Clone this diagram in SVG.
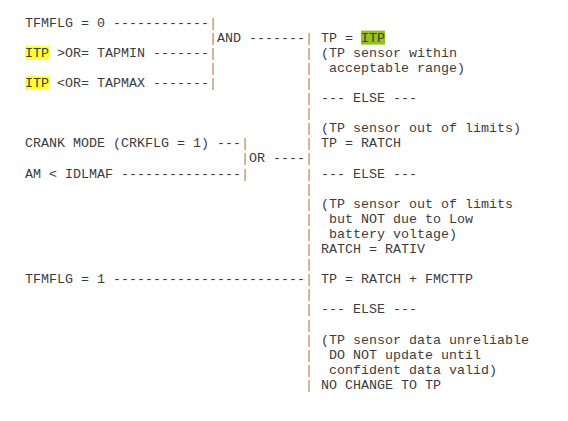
<svg xmlns="http://www.w3.org/2000/svg" width="568" height="421" viewBox="0 0 568 421">
<style>
text{font-family:"Liberation Mono","DejaVu Sans Mono",monospace;font-size:13.33px;fill:#3c3c3c;white-space:pre}
.bar{fill:#8a8a8a}
.hy{fill:#ffff33}
.hg{fill:#95c11f}
</style>
<rect width="568" height="421" fill="#ffffff"/>
<g id="connectors">
<text x="113" y="26.5">------------</text><text class="bar" x="209" y="26.5">|</text>
<text class="bar" x="209" y="41.6">|</text><text x="249" y="41.6">-------</text><text class="bar" x="305" y="41.6">|</text>
<text x="153" y="56.7">-------</text><text class="bar" x="209" y="56.7">|</text><text class="bar" x="305" y="56.7">|</text>
<text class="bar" x="209" y="71.8">|</text><text class="bar" x="305" y="71.8">|</text>
<text x="153" y="86.9">-------</text><text class="bar" x="209" y="86.9">|</text><text class="bar" x="305" y="86.9">|</text>
<text class="bar" x="305" y="102.0">|</text>
<text class="bar" x="305" y="117.1">|</text>
<text class="bar" x="305" y="132.2">|</text>
<text x="217" y="147.3">---</text><text class="bar" x="241" y="147.3">|</text><text class="bar" x="305" y="147.3">|</text>
<text class="bar" x="241" y="162.4">|</text><text x="273" y="162.4">----</text><text class="bar" x="305" y="162.4">|</text>
<text x="121" y="177.5">---------------</text><text class="bar" x="241" y="177.5">|</text><text class="bar" x="305" y="177.5">|</text>
<text class="bar" x="305" y="192.6">|</text>
<text class="bar" x="305" y="207.7">|</text>
<text class="bar" x="305" y="222.8">|</text>
<text class="bar" x="305" y="237.9">|</text>
<text class="bar" x="305" y="253.0">|</text>
<text class="bar" x="305" y="268.1">|</text>
<text x="113" y="283.2">------------------------</text><text class="bar" x="305" y="283.2">|</text>
<text class="bar" x="305" y="298.3">|</text>
<text class="bar" x="305" y="313.4">|</text>
<text class="bar" x="305" y="328.5">|</text>
<text class="bar" x="305" y="343.6">|</text>
<text class="bar" x="305" y="358.7">|</text>
<text class="bar" x="305" y="373.8">|</text>
<text class="bar" x="305" y="388.9">|</text>
</g>
<g id="tfmflg0"><text x="25" y="26.5">TFMFLG = 0</text></g>
<g id="itp_min"><rect class="hy" x="25" y="45.7" width="24" height="14"/><text x="25" y="56.7">ITP &gt;OR= TAPMIN</text></g>
<g id="itp_max"><rect class="hy" x="25" y="75.9" width="24" height="14"/><text x="25" y="86.9">ITP &lt;OR= TAPMAX</text></g>
<g id="and"><text x="217" y="41.6">AND</text></g>
<g id="crank"><text x="25" y="147.3">CRANK MODE (CRKFLG = 1)</text></g>
<g id="am"><text x="25" y="177.5">AM &lt; IDLMAF</text></g>
<g id="or"><text x="249" y="162.4">OR</text></g>
<g id="tfmflg1"><text x="25" y="283.2">TFMFLG = 1</text></g>
<g id="result1"><rect class="hg" x="361" y="30.6" width="24" height="14"/><text x="321" y="41.6">TP = ITP</text><text x="321" y="56.7">(TP sensor within</text><text x="329" y="71.8">acceptable range)</text></g>
<g id="else1"><text x="321" y="102.0">--- ELSE ---</text></g>
<g id="result2"><text x="321" y="132.2">(TP sensor out of limits)</text><text x="321" y="147.3">TP = RATCH</text></g>
<g id="else2"><text x="321" y="177.5">--- ELSE ---</text></g>
<g id="result3"><text x="321" y="207.7">(TP sensor out of limits</text><text x="329" y="222.8">but NOT due to Low</text><text x="329" y="237.9">battery voltage)</text><text x="321" y="253.0">RATCH = RATIV</text></g>
<g id="result4"><text x="321" y="283.2">TP = RATCH + FMCTTP</text></g>
<g id="else3"><text x="321" y="313.4">--- ELSE ---</text></g>
<g id="result5"><text x="321" y="343.6">(TP sensor data unreliable</text><text x="329" y="358.7">DO NOT update until</text><text x="329" y="373.8">confident data valid)</text><text x="321" y="388.9">NO CHANGE TO TP</text></g>
</svg>
